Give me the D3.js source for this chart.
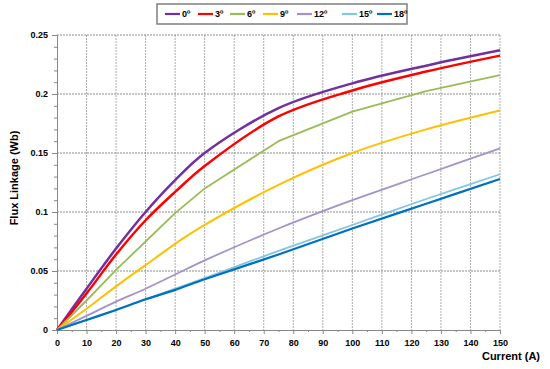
<!DOCTYPE html>
<html>
<head>
<meta charset="utf-8">
<script src="https://cdn.jsdelivr.net/npm/d3@7"></script>
<style>
  body { margin: 0; background: #fff; }
  svg text { font-family: "Liberation Sans", Arial, sans-serif; font-weight: bold; fill: #000; }
</style>
</head>
<body>
<svg id="chart" width="550" height="369"></svg>
<script>
// Currents where flux linkage was read (A)
let currents = [0, 10, 20, 30, 40, 50, 75, 100, 125, 150];

// Flux linkage (Wb) per rotor angle
let flux_0 = [0, 0.035, 0.069, 0.100, 0.127, 0.150, 0.188, 0.209, 0.224, 0.237];
let flux_3 = [0, 0.031, 0.064, 0.093, 0.117, 0.139, 0.181, 0.203, 0.219, 0.2325];
let flux_6 = [0, 0.025, 0.051, 0.075, 0.099, 0.120, 0.160, 0.185, 0.2025, 0.216];
let flux_9 = [0, 0.018, 0.037, 0.055, 0.073, 0.089, 0.123, 0.150, 0.170, 0.186];
let flux_12 = [0, 0.012, 0.024, 0.035, 0.047, 0.059, 0.086, 0.110, 0.132, 0.154];
let flux_15 = [0, 0.0085, 0.017, 0.026, 0.035, 0.044, 0.067, 0.089, 0.111, 0.132];
let flux_18 = [0, 0.0085, 0.017, 0.026, 0.034, 0.043, 0.064, 0.086, 0.107, 0.128];

let angle_labels = ['0º', '3º', '6º', '9º', '12º', '15º', '18º'];
let x_ticks = d3.range(0, 151, 10);
let y_ticks = [0, 0.05, 0.1, 0.15, 0.2, 0.25];

// styling for each series
let series = [
    {label: angle_labels[0], values: flux_0, color: '#7030A0', width: 2.5, smooth: true},
    {label: angle_labels[1], values: flux_3, color: '#FF0000', width: 2.5, smooth: true},
    {label: angle_labels[2], values: flux_6, color: '#9BBB59', width: 1.8, smooth: false},
    {label: angle_labels[3], values: flux_9, color: '#FFC000', width: 2, smooth: true},
    {label: angle_labels[4], values: flux_12, color: '#A393C8', width: 1.8, smooth: true},
    {label: angle_labels[5], values: flux_15, color: '#86C5DE', width: 1.8, smooth: true},
    {label: angle_labels[6], values: flux_18, color: '#0070C0', width: 2.2, smooth: true}
];

let svg = d3.select('#chart');
let m_left = 57, m_right = 500, m_top = 35, m_bottom = 330;

let x = d3.scaleLinear().domain([0, 150]).range([m_left, m_right]);
let y = d3.scaleLinear().domain([0, 0.25]).range([m_bottom, m_top]);

// vertical grid lines
svg.append('g')
    .selectAll('line')
    .data(x_ticks.slice(1))
    .join('line')
    .attr('x1', d => x(d)).attr('x2', d => x(d))
    .attr('y1', m_top).attr('y2', m_bottom)
    .attr('stroke', '#aaa')
    .attr('stroke-width', 1)
    .attr('stroke-dasharray', '2,1');

// horizontal grid lines
svg.append('g')
    .selectAll('line')
    .data(y_ticks.slice(1))
    .join('line')
    .attr('x1', m_left).attr('x2', m_right)
    .attr('y1', d => y(d)).attr('y2', d => y(d))
    .attr('stroke', '#8c8c8c')
    .attr('stroke-width', 1)
    .attr('stroke-dasharray', '2,1');

// bottom axis
let xAxis = svg.append('g')
    .attr('transform', `translate(0,${m_bottom})`)
    .call(d3.axisBottom(x).tickValues(x_ticks).tickSize(4).tickPadding(6));
xAxis.selectAll('.tick text').attr('font-size', 9).attr('font-family', '"Liberation Sans", Arial, sans-serif').attr('font-weight', 'bold');
xAxis.selectAll('line, path').attr('stroke', '#888');
svg.append('g')
    .attr('transform', `translate(0,${m_bottom})`)
    .call(d3.axisBottom(x).tickValues(d3.range(5, 150, 10)).tickSize(2).tickFormat(''))
    .call(g => g.select('.domain').remove())
    .selectAll('line').attr('stroke', '#888');

// left axis
let yAxis = svg.append('g')
    .attr('transform', `translate(${m_left},0)`)
    .call(d3.axisLeft(y).tickValues(y_ticks).tickSize(5).tickPadding(4).tickFormat(d => String(+d.toFixed(2))));
yAxis.selectAll('.tick text').attr('font-size', 9).attr('font-family', '"Liberation Sans", Arial, sans-serif').attr('font-weight', 'bold');
yAxis.selectAll('line, path').attr('stroke', '#888');
svg.append('g')
    .attr('transform', `translate(${m_left},0)`)
    .call(d3.axisLeft(y).tickValues(d3.range(0.01, 0.25, 0.01)).tickSize(3).tickFormat(''))
    .call(g => g.select('.domain').remove())
    .selectAll('line').attr('stroke', '#888');

// axis titles
svg.append('text')
    .attr('x', 540).attr('y', 360)
    .attr('text-anchor', 'end')
    .attr('font-size', 11)
    .text('Current (A)');

svg.append('text')
    .attr('transform', 'translate(18,178) rotate(-90)')
    .attr('text-anchor', 'middle')
    .attr('font-size', 11)
    .text('Flux Linkage (Wb)');

// curves
series.forEach(s => {
    let line = d3.line()
        .x((d, i) => x(currents[i]))
        .y(d => y(d))
        .curve(s.smooth ? d3.curveCatmullRom.alpha(0.5) : d3.curveLinear);
    svg.append('path')
        .datum(s.values)
        .attr('d', line)
        .attr('fill', 'none')
        .attr('stroke', s.color)
        .attr('stroke-width', s.width)
        .attr('stroke-linejoin', 'round');
});

// legend
let legend_x = [165, 198, 230, 263, 297, 342, 377];
svg.append('rect')
    .attr('x', 157).attr('y', 4)
    .attr('width', 250).attr('height', 20)
    .attr('fill', '#fff')
    .attr('stroke', '#7f7f7f')
    .attr('stroke-width', 1.5);

let items = svg.append('g')
    .selectAll('g')
    .data(series)
    .join('g')
    .attr('transform', (d, i) => `translate(${legend_x[i]},14)`);
items.append('line')
    .attr('x1', 0).attr('x2', 15)
    .attr('stroke', d => d.color)
    .attr('stroke-width', 2.2);
items.append('text')
    .attr('x', 17).attr('y', 3)
    .attr('font-size', 9)
    .text(d => d.label);
</script>
</body>
</html>
